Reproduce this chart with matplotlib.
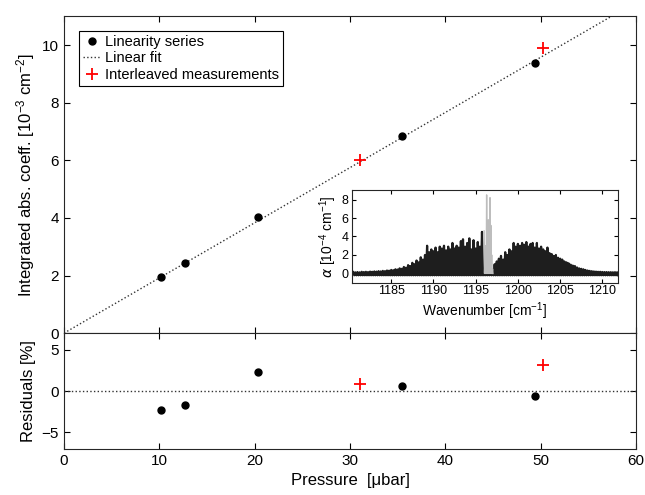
import numpy as np
import matplotlib
matplotlib.use('Agg')
import matplotlib.pyplot as plt
from matplotlib.lines import Line2D

plt.rcParams['font.family'] = ['Liberation Sans', 'DejaVu Sans']
plt.rcParams['mathtext.default'] = 'regular'
plt.rcParams['xtick.direction'] = 'in'
plt.rcParams['ytick.direction'] = 'in'

# linearity series (black dots)
p_lin = [10.2, 12.7, 20.3, 35.5, 49.4]
a_lin = [1.95, 2.42, 4.02, 6.85, 9.38]
r_lin = [-2.3, -1.7, 2.3, 0.6, -0.6]

# interleaved measurements (red crosses)
p_int = [31.0, 50.2]
a_int = [6.02, 9.90]
r_int = [0.9, 3.2]

# linear fit through origin
fit_slope = 0.1916
fit_x = [0, 60]

# inset spectrum: peak heights every 0.25 cm-1 from 1180.5 cm-1
wn_start = 1180.5
peaks = [0.15, 0.12,
         0.15, 0.12, 0.18, 0.15,
         0.18, 0.15, 0.20, 0.18,
         0.22, 0.20, 0.25, 0.22,
         0.28, 0.25, 0.32, 0.30,
         0.38, 0.35, 0.45, 0.42,
         0.55, 0.50, 0.70, 0.62,
         0.90, 0.80, 1.15, 1.00,
         1.40, 1.20, 1.75, 1.50,
         2.00, 3.00, 2.30, 2.60,
         2.40, 2.80, 2.30, 2.90,
         2.70, 3.00, 2.50, 2.90,
         2.60, 3.30, 2.70, 3.00,
         2.80, 3.50, 3.70, 2.90,
         3.30, 3.80, 2.60, 3.60,
         2.70, 3.40, 2.90, 4.50,
         0.30, 0.25, 0.20, 0.25,
         0.40, 1.00, 1.30, 1.60,
         1.90, 1.50, 2.30, 2.00,
         2.60, 2.40, 3.30, 2.90,
         3.20, 3.00, 3.30, 3.10,
         3.40, 2.90, 3.20, 3.30,
         2.80, 3.30, 2.70, 2.90,
         2.60, 2.40, 2.80, 2.20,
         2.10, 1.90, 2.00, 1.70,
         1.60, 1.50, 1.30, 1.20,
         1.10, 0.95, 0.85, 0.80,
         0.65, 0.55, 0.50, 0.45,
         0.38, 0.32, 0.28, 0.25,
         0.22, 0.20, 0.18, 0.18,
         0.16, 0.15, 0.15, 0.14,
         0.14, 0.13, 0.14, 0.13]
trough = -0.2

# excluded lines (grey)
wn_grey = [1196.0, 1196.1, 1196.2, 1196.3, 1196.4, 1196.5,
           1196.6, 1196.7, 1196.8, 1196.9, 1197.0]
pk_grey = [4.6, 1.5, 3.0, 8.5, 4.0, 5.8, 3.5, 8.2, 5.2, 2.0, 0.5]

fig = plt.figure(figsize=(6.45, 4.95), dpi=100)
ax = fig.add_axes([0.0992, 0.327, 0.887, 0.640])
axr = fig.add_axes([0.0992, 0.093, 0.887, 0.234], sharex=ax)

# main panel
ax.plot(fit_x, [fit_slope * x for x in fit_x], ':', color='#333333', lw=1.0)
ax.plot(p_lin, a_lin, 'o', color='black', ms=5)
ax.plot(p_int, a_int, '+', color='red', ms=9, mew=1.3)
ax.set_xlim(0, 60)
ax.set_ylim(0, 11)
ax.set_yticks([0, 2, 4, 6, 8, 10])
ax.tick_params(labelbottom=False, top=True, right=True, labelsize=11, length=4)
ax.set_ylabel('Integrated abs. coeff. [10$^{-3}$ cm$^{-2}$]', fontsize=12)

handles = [Line2D([0], [0], marker='o', color='black', ls='none', ms=5),
           Line2D([0], [0], ls=':', color='#333333', lw=1.0),
           Line2D([0], [0], marker='+', color='red', ls='none', ms=9, mew=1.3)]
leg = ax.legend(handles, ['Linearity series', 'Linear fit', 'Interleaved measurements'],
                loc='upper left', borderaxespad=1.0, fontsize=10.5, handlelength=1.2,
                handletextpad=0.3, borderpad=0.3, labelspacing=0.15,
                fancybox=False, framealpha=1, edgecolor='black')
leg.get_frame().set_linewidth(0.8)

# residuals panel
axr.axhline(0, ls=':', color='#333333', lw=1.0)
axr.plot(p_lin, r_lin, 'o', color='black', ms=5)
axr.plot(p_int, r_int, '+', color='red', ms=9, mew=1.3)
axr.set_ylim(-7, 7)
axr.set_yticks([-5, 0, 5])
axr.set_xticks(range(0, 61, 10))
axr.tick_params(top=True, right=True, labelsize=11, length=4)
axr.set_ylabel('Residuals [%]', fontsize=12)
axr.set_xlabel('Pressure  [\u03bcbar]', fontsize=12)

# inset spectrum
axi = fig.add_axes([0.545, 0.4289, 0.4124, 0.1867])
pk = np.array(peaks)
wn = wn_start + 0.25 * np.arange(len(pk))
xs = np.column_stack([wn, wn + 0.125]).ravel()
ys = np.column_stack([pk, np.full_like(pk, trough)]).ravel()
axi.plot(xs, ys, color='#1e1e1e', lw=1.6)
wg = np.array(wn_grey)
pg = np.array(pk_grey)
xg = np.column_stack([wg, wg + 0.05]).ravel()
yg = np.column_stack([pg, np.zeros_like(pg)]).ravel()
axi.plot(xg, yg, color='#bdbdbd', lw=1.0)
axi.set_xlim(1180.3, 1211.8)
axi.set_ylim(-1, 9)
axi.set_yticks([0, 2, 4, 6, 8])
axi.set_xticks([1185, 1190, 1195, 1200, 1205, 1210])
axi.tick_params(top=True, right=True, labelsize=9, length=3, pad=2)
axi.set_xlabel('Wavenumber [cm$^{-1}$]', fontsize=10, labelpad=2)
axi.set_ylabel(r'$\mathit{\alpha}$ [10$^{-4}$ cm$^{-1}$]', fontsize=10, labelpad=2)

for a in (ax, axr, axi):
    for s in a.spines.values():
        s.set_color('#262626')
        s.set_linewidth(0.8)

fig.savefig('out.png', dpi=100)
